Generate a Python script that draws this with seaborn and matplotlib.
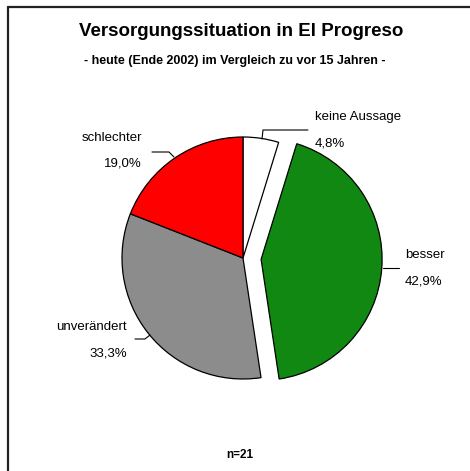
import matplotlib
matplotlib.use("Agg")
import matplotlib.pyplot as plt
from matplotlib.lines import Line2D
import seaborn as sns

# Daten: Versorgungssituation heute vs. vor 15 Jahren (n=21)
kategorien = ["keine Aussage", "besser", "unverändert", "schlechter"]
anzahl = [1, 9, 7, 4]
farben = ["#ffffff", "#118811", "#8c8c8c", "#ff0000"]
herausgezogen = [0, 0.15, 0, 0]

sns.set_theme(style="white")
plt.rcParams["font.family"] = ["Liberation Sans", "DejaVu Sans"]
plt.rcParams["text.color"] = "black"

fig = plt.figure(figsize=(4.70, 4.71), dpi=100)
ax = fig.add_axes([0, 0, 1, 1])

gesamt = sum(anzahl)
prozente = [a / gesamt * 100 for a in anzahl]

ax.pie(anzahl, colors=farben, explode=herausgezogen, startangle=90,
       counterclock=False, radius=1,
       wedgeprops=dict(edgecolor="black", linewidth=0.9))

# Pixel -> Datenkoordinaten (Mittelpunkt bei 243/258, Radius 121 px)
cx, cy, r = 243, 258, 121
def p(x, y):
    return (x - cx) / r, (cy - y) / r

ax.set_xlim(-cx / r, (470 - cx) / r)
ax.set_ylim(-(471 - cy) / r, cy / r)
ax.set_aspect("auto")
ax.axis("off")

# Beschriftungen (Name + Prozent) mit Führungslinien
beschriftung = {
    "keine Aussage": dict(xy=(315, 117), ha="left",
                          linie=[(262, 139), (263, 130), (308, 130)]),
    "besser": dict(xy=(405, 255), ha="left",
                   linie=[(383, 268), (399, 268)]),
    "unverändert": dict(xy=(127, 327), ha="right",
                        linie=[(150, 335), (145, 339), (135, 339)]),
    "schlechter": dict(xy=(142, 138), ha="right",
                       linie=[(174, 157), (169, 152), (152, 152)]),
}
for name, pz in zip(kategorien, prozente):
    b = beschriftung[name]
    x0, y0 = b["xy"]
    ax.text(*p(x0, y0), name, ha=b["ha"], va="center", fontsize=9.5,
            color="black")
    ax.text(*p(x0, y0 + 26), f"{pz:.1f}%".replace(".", ","),
            ha=b["ha"], va="center", fontsize=9.5, color="black")
    pts = [p(x, y) for x, y in b["linie"]]
    ax.plot([q[0] for q in pts], [q[1] for q in pts], color="black", lw=0.8)

fig.text(241 / 470, 1 - 32 / 471, "Versorgungssituation in El Progreso",
         ha="center", va="center", fontsize=13.5, fontweight="bold",
         color="black")
fig.text(235 / 470, 1 - 61 / 471,
         "- heute (Ende 2002) im Vergleich zu vor 15 Jahren -",
         ha="center", va="center", fontsize=9, fontweight="bold",
         color="black")
fig.text(240 / 470, 1 - 455 / 471, f"n={gesamt}",
         ha="center", va="center", fontsize=8.5, fontweight="bold",
         color="black")

# Rahmen oben und links
fig.add_artist(Line2D([8 / 470, 8 / 470], [0, 1 - 7 / 471],
                      transform=fig.transFigure, color="#222222", lw=1.6))
fig.add_artist(Line2D([8 / 470, 1], [1 - 7 / 471, 1 - 7 / 471],
                      transform=fig.transFigure, color="#222222", lw=1.6))

fig.savefig("out.png", dpi=100, facecolor="white")
